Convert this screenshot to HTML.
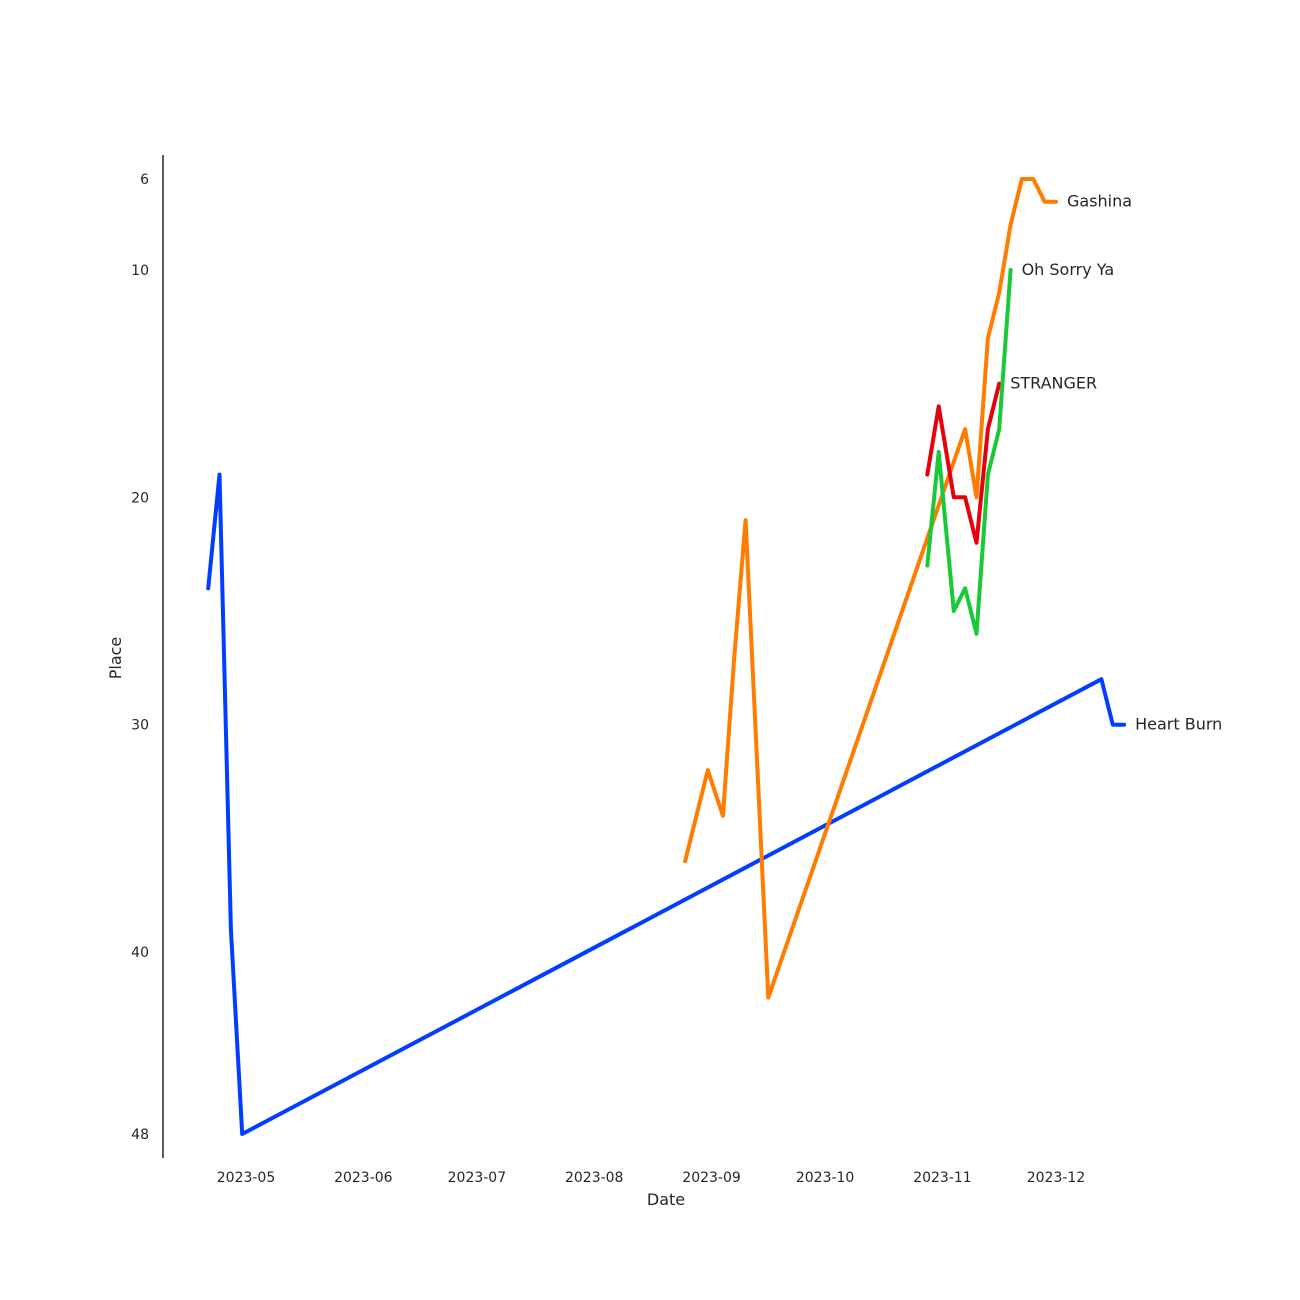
<!DOCTYPE html>
<html><head><meta charset="utf-8"><style>
html,body{margin:0;padding:0;background:#fff;}
svg{display:block;font-family:"DejaVu Sans","Liberation Sans",sans-serif;}
</style></head><body>
<svg id="chart" width="1300" height="1300" viewBox="0 0 1300 1300" xmlns="http://www.w3.org/2000/svg">
<rect width="1300" height="1300" fill="#fff"/>
<line x1="163" y1="155" x2="163" y2="1158" stroke="#262626" stroke-width="1.5"/>
<text x="0" y="0" transform="translate(121,658) rotate(-90)" text-anchor="middle" font-size="16" fill="#262626">Place</text>
<text x="666" y="1205" text-anchor="middle" font-size="16" fill="#262626">Date</text>
<g id="ticks"></g>
<g id="series"></g>
</svg>
<script>
const xTickLabels = ["2023-05","2023-06","2023-07","2023-08","2023-09","2023-10","2023-11","2023-12"];
const yTickValues = [6,10,20,30,40,48];
const seriesNames = ["Heart Burn","Gashina","STRANGER","Oh Sorry Ya"];
const seriesColors = ["#023eff","#ff7c00","#e8000b","#1ac938"];
const heartBurnDates = ["2023-04-21","2023-04-24","2023-04-27","2023-04-30","2023-12-13","2023-12-16","2023-12-19"];
const heartBurnPlaces = [24,19,39,48,28,30,30];
const gashinaDates = ["2023-08-25","2023-08-31","2023-09-04","2023-09-07","2023-09-10","2023-09-16","2023-11-07","2023-11-10","2023-11-13","2023-11-16","2023-11-19","2023-11-22","2023-11-25","2023-11-28","2023-12-01"];
const gashinaPlaces = [36,32,34,27,21,42,17,20,13,11,8,6,6,7,7];
const strangerDates = ["2023-10-28","2023-10-31","2023-11-04","2023-11-07","2023-11-10","2023-11-13","2023-11-16"];
const strangerPlaces = [19,16,20,20,22,17,15];
const sorryDates = ["2023-10-28","2023-10-31","2023-11-04","2023-11-07","2023-11-10","2023-11-13","2023-11-16","2023-11-19"];
const sorryPlaces = [23,18,25,24,26,19,17,10];

const NS="http://www.w3.org/2000/svg";
const t0=Date.UTC(2023,4,1), day=86400000;
function xScale(d){const p=d.split("-").map(Number);const t=Date.UTC(p[0],p[1]-1,p[2]||1);return 246+(t-t0)/day*3.785;}
function yScale(v){return 179+(v-6)*(1134-179)/42;}

const ticks=document.getElementById("ticks");
xTickLabels.forEach(l=>{
  const t=document.createElementNS(NS,"text");
  
  
  t.setAttribute("x",xScale(l+"-01"));t.setAttribute("y",1182);
  t.setAttribute("text-anchor","middle");t.setAttribute("font-size","14");t.setAttribute("fill","#262626");
  t.textContent=l;ticks.appendChild(t);
});
yTickValues.forEach(v=>{
  const t=document.createElementNS(NS,"text");
  
  
  t.setAttribute("x",149);t.setAttribute("y",yScale(v)+5);
  t.setAttribute("text-anchor","end");t.setAttribute("font-size","14");t.setAttribute("fill","#262626");
  t.textContent=v;ticks.appendChild(t);
});

const allDates=[heartBurnDates,gashinaDates,strangerDates,sorryDates];
const allPlaces=[heartBurnPlaces,gashinaPlaces,strangerPlaces,sorryPlaces];
const g=document.getElementById("series");
seriesNames.forEach((name,i)=>{
  const ds=allDates[i], ps=allPlaces[i];
  const pts=ds.map((d,j)=>xScale(d).toFixed(1)+","+yScale(ps[j]).toFixed(1)).join(" ");
  const pl=document.createElementNS(NS,"polyline");
  
  
  pl.setAttribute("points",pts);pl.setAttribute("fill","none");
  pl.setAttribute("stroke",seriesColors[i]);pl.setAttribute("stroke-width","4");
  pl.setAttribute("stroke-linejoin","round");pl.setAttribute("stroke-linecap","round");
  g.appendChild(pl);
  const n=ds.length-1;
  const t=document.createElementNS(NS,"text");
  
  
  t.setAttribute("x",xScale(ds[n])+11);t.setAttribute("y",yScale(ps[n])+5);
  t.setAttribute("font-size","16");t.setAttribute("fill","#262626");
  t.textContent=name;g.appendChild(t);
});
</script>
</body></html>
